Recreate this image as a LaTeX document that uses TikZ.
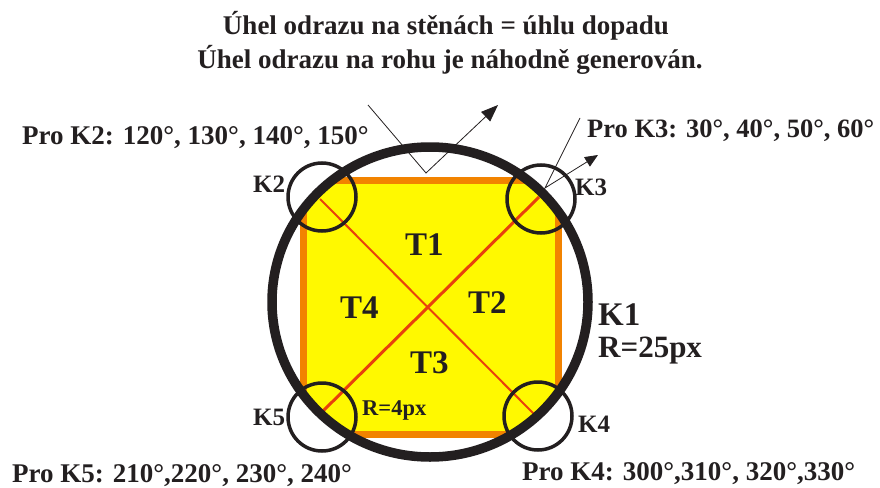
\documentclass[tikz,border=0pt]{standalone}
\usepackage{fontspec}
\setmainfont{Liberation Serif}
\usetikzlibrary{arrows.meta,positioning}
\definecolor{inkblack}{HTML}{231F20}
\definecolor{boxyellow}{HTML}{FFF900}
\definecolor{rimorange}{HTML}{F28300}
\definecolor{diagred}{HTML}{E8410C}

\begin{document}
\begin{tikzpicture}[
  x=1pt, y=-1pt,
  lbl/.style={inner sep=0pt, anchor=base west, text=inkblack, font=\bfseries\fontsize{27}{33}\selectfont},
  big/.style={lbl, font=\bfseries\fontsize{33}{36}\selectfont},
  klbl/.style={lbl, font=\bfseries\fontsize{25}{28}\selectfont},
  corner/.style={draw=inkblack, line width=3.5pt},
  ray/.style={draw=inkblack, line width=0.8pt},
  arr/.style={ray, -{Triangle[length=17pt, width=13pt]}}
]
\useasboundingbox (0,0) rectangle (880,487);

\begin{scope}
\clip (430,302) ellipse [x radius=158, y radius=155];
\filldraw[fill=boxyellow, draw=rimorange, line width=7pt] (303,180) rectangle (558,434);
\end{scope}

\coordinate (nw) at (320,199);
\coordinate (se) at (538,418);
\coordinate (ne) at (539,197);
\coordinate (sw) at (320,414);
\draw[diagred, line width=2pt] (nw) -- (se);
\draw[diagred, line width=3pt] (ne) -- (sw);

\draw[inkblack, line width=9.5pt] (430,302) ellipse [x radius=158, y radius=155];

\draw[corner] (322,197) circle [radius=34];
\draw[corner] (541,199) circle [radius=34];
\draw[corner] (322,417) circle [radius=34];
\draw[corner] (538,416) circle [radius=34];

\coordinate (in1) at (368,105);
\coordinate (hit1) at (426,173);
\coordinate (out1) at (498,105);
\draw[arr] (in1) -- (hit1) -- (out1);
\coordinate (in2) at (580,118);
\coordinate (hit2) at (545,188);
\coordinate (out2) at (598,155);
\draw[ray, -{Triangle[length=13pt, width=11pt]}] (in2) -- (hit2) -- (out2);

\node[lbl, anchor=base] (title1) at (446,35) {Úhel odrazu na stěnách = úhlu dopadu};
\node[lbl, anchor=base] (title2) at (450,68) {Úhel odrazu na rohu je náhodně generován.};
\node[lbl] (proK2) at (22,144) {Pro K2: 120°, 130°, 140°, 150°};
\node[lbl, font=\bfseries\fontsize{26.5}{33}\selectfont] (proK3) at (587,137) {Pro K3: 30°, 40°, 50°, 60°};
\node[lbl] (proK5) at (12,482) {Pro K5: 210°,220°, 230°, 240°};
\node[lbl] (proK4) at (522,480) {Pro K4: 300°,310°, 320°,330°};

\node[big] (k1) at (598,325) {K1};
\node[lbl, font=\bfseries\fontsize{31}{34}\selectfont] (r25) at (598,357) {R=25px};
\node[big] (t1) at (405,255) {T1};
\node[big] (t2) at (468,313) {T2};
\node[big] (t3) at (410,373) {T3};
\node[big] (t4) at (340,318) {T4};

\node[klbl] (k2) at (253,192) {K2};
\node[klbl] (k3) at (575,195) {K3};
\node[klbl] (k5) at (253,425) {K5};
\node[klbl] (k4) at (578,432) {K4};
\node[lbl, font=\bfseries\fontsize{22.5}{25}\selectfont] (r4) at (362,415) {R=4px};
\end{tikzpicture}
\end{document}
